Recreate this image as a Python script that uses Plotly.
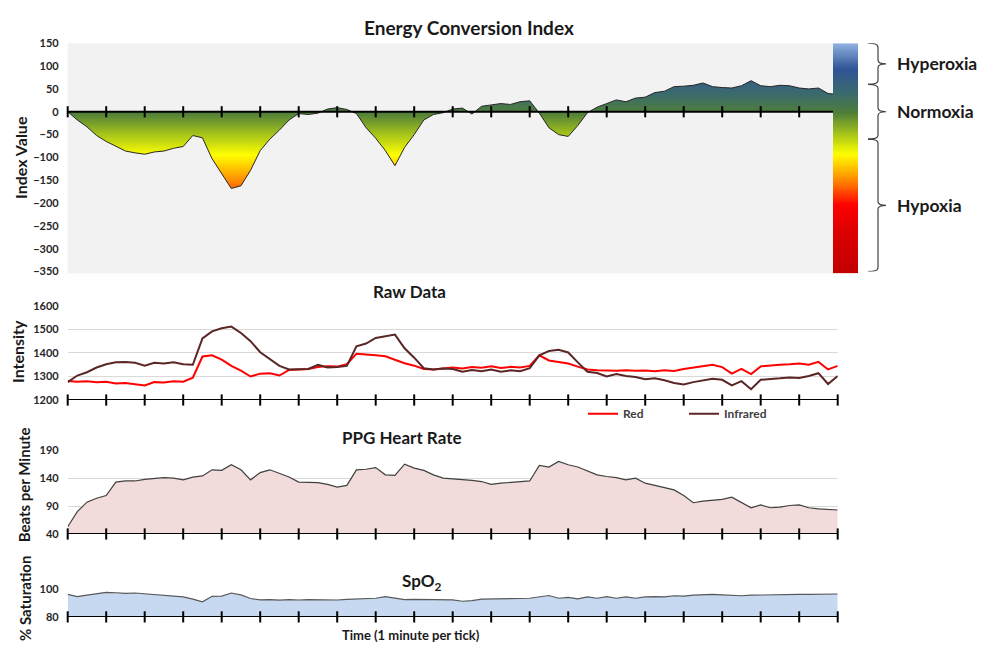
import numpy as np
import plotly.graph_objects as go

# ---------------- data (one sample every 15 s, 20 minutes) ----------------
MINUTES = [i * 0.25 for i in range(81)]
TICK_MINUTES = list(range(21))

ECI = [0, -18, -33, -52, -65, -75, -86, -90, -93, -88,
       -86, -80, -76, -52, -57, -103, -135, -168, -162, -128,
       -85, -60, -40, -18, -4, -6, -3, 6, 9, 5,
       -4, -35, -58, -85, -118, -78, -50, -18, -6, -2,
       6, 8, -5, 12, 15, 18, 16, 22, 24, -3,
       -35, -50, -54, -30, -2, 10, 18, 26, 22, 30,
       32, 42, 45, 55, 56, 58, 63, 55, 53, 52,
       57, 68, 57, 55, 58, 57, 52, 50, 52, 40, 38]

RED = [1281, 1278, 1280, 1275, 1278, 1270, 1272, 1268, 1262, 1276,
       1274, 1280, 1278, 1295, 1385, 1390, 1372, 1345, 1325, 1300,
       1312, 1314, 1304, 1328, 1330, 1332, 1340, 1344, 1342, 1352,
       1397, 1392, 1390, 1386, 1372, 1356, 1346, 1332, 1330, 1335,
       1338, 1334, 1340, 1337, 1343, 1336, 1341, 1338, 1345, 1390,
       1368, 1362, 1355, 1342, 1330, 1326, 1325, 1324, 1327, 1324,
       1325, 1322, 1326, 1323, 1332, 1338, 1342, 1350, 1340, 1312,
       1332, 1310, 1343, 1348, 1350, 1352, 1355, 1350, 1362, 1330, 1345]

INFRARED = [1276, 1304, 1318, 1338, 1352, 1360, 1362, 1358, 1346, 1358,
            1355, 1360, 1352, 1350, 1462, 1492, 1505, 1512, 1485, 1450,
            1403, 1375, 1345, 1330, 1330, 1332, 1350, 1338, 1340, 1345,
            1428, 1440, 1464, 1472, 1478, 1420, 1380, 1335, 1330, 1334,
            1332, 1320, 1328, 1322, 1330, 1320, 1326, 1322, 1335, 1390,
            1408, 1414, 1402, 1360, 1320, 1315, 1300, 1310, 1302, 1298,
            1288, 1292, 1284, 1272, 1266, 1276, 1282, 1290, 1286, 1262,
            1280, 1246, 1286, 1288, 1292, 1296, 1294, 1302, 1314, 1268, 1302]

HEART_RATE = [53, 80, 97, 104, 109, 133, 135, 135, 138, 139,
              141, 140, 137, 142, 144, 155, 154, 164, 155, 137,
              150, 155, 149, 142, 133, 132, 132, 129, 124, 127,
              155, 156, 159, 146, 145, 165, 158, 154, 146, 140,
              139, 137, 136, 134, 129, 131, 132, 134, 135, 163,
              160, 170, 164, 160, 153, 146, 143, 141, 137, 140,
              131, 127, 122, 119, 109, 96, 99, 100, 102, 106,
              97, 87, 92, 87, 88, 91, 92, 87, 85, 84, 83]

SPO2 = [96.4, 94.8, 95.8, 96.6, 97.8, 97.6, 97.2, 97.4, 96.8, 96.0,
        95.5, 95.0, 94.6, 93.0, 91.0, 95.0, 95.2, 97.4, 96.0, 93.4,
        92.4, 92.6, 92.2, 92.6, 92.3, 92.6, 92.4, 92.6, 92.3, 92.8,
        93.0, 93.4, 93.6, 94.8, 93.8, 92.6, 92.8, 92.7, 92.4, 92.1,
        92.4, 91.4, 91.8, 93.0, 93.0, 93.2, 93.0, 93.4, 93.6, 94.4,
        95.6, 93.6, 94.2, 93.2, 94.6, 93.6, 94.8, 93.6, 94.6, 93.6,
        94.6, 94.8, 94.6, 95.4, 95.2, 95.8, 96.0, 96.4, 96.0, 95.6,
        95.4, 95.8, 96.0, 96.0, 96.2, 96.2, 96.4, 96.4, 96.6, 96.6, 96.7]

# oxygenation zones of the index: (label, upper bound, lower bound)
ZONES = [("Hyperoxia", 150, 60), ("Normoxia", 60, -60), ("Hypoxia", -60, -350)]

ECI_RANGE = [-350, 150]
RAW_RANGE = [1200, 1600]
HR_RANGE = [40, 190]
SPO2_RANGE = [80, 100]

# colour scale shared by the index fill and the side colour bar
ECI_COLORSCALE = [
    [0.00, "#c00000"], [0.20, "#e00000"], [0.30, "#ff0000"], [0.40, "#ff8000"],
    [0.46, "#ffc000"], [0.52, "#ffff00"], [0.61, "#a5c31a"], [0.70, "#4f7f3a"],
    [0.78, "#3b6b6b"], [0.89, "#2f5597"], [1.00, "#8fb0e0"],
]

# ---------------- page geometry (pixels) ----------------
W, H = 981, 652
FONT = "Lato, 'Open Sans', sans-serif"
TXT = "#262626"


def px(x):
    return x / W


def py(y):
    return 1 - y / H


X_DOM = [px(67.7), px(837.7)]

fig = go.Figure()

# ---- Energy Conversion Index ----
fig.add_trace(go.Scatter(
    x=MINUTES, y=ECI, mode="lines", fill="tozeroy",
    line=dict(color="#262626", width=1),
    fillgradient=dict(type="vertical", colorscale=ECI_COLORSCALE,
                      start=ECI_RANGE[0], stop=ECI_RANGE[1]),
    xaxis="x", yaxis="y", showlegend=False, hoverinfo="skip"))
fig.add_trace(go.Scatter(
    x=TICK_MINUTES, y=[0] * len(TICK_MINUTES), mode="lines+markers",
    line=dict(color="black", width=2),
    marker=dict(symbol="line-ns", size=8, line=dict(color="black", width=2)),
    xaxis="x", yaxis="y", showlegend=False, cliponaxis=False, hoverinfo="skip"))

# colour bar beside the index
levels = np.linspace(ECI_RANGE[0], ECI_RANGE[1], 251)
fig.add_trace(go.Heatmap(
    x=[0], y=levels, z=[[v] for v in levels], colorscale=ECI_COLORSCALE,
    zmin=ECI_RANGE[0], zmax=ECI_RANGE[1], showscale=False, zsmooth="best",
    xaxis="x5", yaxis="y5", hoverinfo="skip"))

# ---- Raw data ----
fig.add_trace(go.Scatter(
    x=MINUTES, y=RED, mode="lines", name="Red",
    line=dict(color="#ff0000", width=2), xaxis="x2", yaxis="y2"))
fig.add_trace(go.Scatter(
    x=MINUTES, y=INFRARED, mode="lines", name="Infrared",
    line=dict(color="#5b2626", width=2), xaxis="x2", yaxis="y2"))

# ---- PPG heart rate ----
fig.add_trace(go.Scatter(
    x=MINUTES, y=HEART_RATE, mode="lines", fill="tozeroy",
    fillcolor="#f2dcdb", line=dict(color="#404040", width=1.2),
    xaxis="x3", yaxis="y3", showlegend=False, hoverinfo="skip"))

# ---- SpO2 ----
fig.add_trace(go.Scatter(
    x=MINUTES, y=SPO2, mode="lines", fill="tozeroy",
    fillcolor="#c6d9f1", line=dict(color="#595959", width=1.2),
    xaxis="x4", yaxis="y4", showlegend=False, hoverinfo="skip"))

# minute ticks along the bottom axes of the lower panels
for xa, ya, base in (("x2", "y2", RAW_RANGE[0]), ("x3", "y3", HR_RANGE[0]),
                     ("x4", "y4", SPO2_RANGE[0])):
    fig.add_trace(go.Scatter(
        x=TICK_MINUTES, y=[base] * len(TICK_MINUTES), mode="lines+markers",
        line=dict(color="black", width=2),
        marker=dict(symbol="line-ns", size=8, line=dict(color="black", width=2)),
        xaxis=xa, yaxis=ya, showlegend=False, cliponaxis=False, hoverinfo="skip"))

tickfont = dict(family=FONT, size=11, color=TXT, weight="bold")


def xaxis_cfg():
    return dict(domain=X_DOM, range=[0, 20], showgrid=False, zeroline=False,
                showticklabels=False, ticks="", showline=False, fixedrange=True)


def yaxis_cfg(rng, dtick, grid, domain):
    return dict(domain=domain, range=rng, dtick=dtick, tick0=rng[0],
                showgrid=grid, gridcolor="#d9d9d9", gridwidth=1,
                zeroline=False, showline=False, ticks="",
                tickfont=tickfont, ticklabelstandoff=8, fixedrange=True)


layout = dict(
    width=W, height=H, margin=dict(l=0, r=0, t=0, b=0),
    paper_bgcolor="white", plot_bgcolor="white",
    font=dict(family=FONT, color=TXT),
    xaxis=xaxis_cfg(),
    yaxis=yaxis_cfg(ECI_RANGE, 50, False, [py(270), py(37)]),
    xaxis2=dict(xaxis_cfg(), anchor="y2"),
    yaxis2=dict(yaxis_cfg(RAW_RANGE, 100, True, [py(401), py(305)]), anchor="x2"),
    xaxis3=dict(xaxis_cfg(), anchor="y3"),
    yaxis3=dict(yaxis_cfg(HR_RANGE, 50, True, [py(537.7), py(452.3)]), anchor="x3"),
    xaxis4=dict(xaxis_cfg(), anchor="y4"),
    yaxis4=dict(yaxis_cfg(SPO2_RANGE, 20, True, [py(622.3), py(594.3)]), anchor="x4"),
    xaxis5=dict(domain=[px(833), px(858)], visible=False, anchor="y5", fixedrange=True),
    yaxis5=dict(domain=[py(272), py(37)], range=ECI_RANGE, visible=False,
                anchor="x5", fixedrange=True),
    legend=dict(orientation="h", x=px(583), y=py(415), xanchor="left", yanchor="middle",
                entrywidth=56, entrywidthmode="pixels",
                font=dict(family=FONT, size=12, color="#404040", weight="bold"),
                bgcolor="rgba(0,0,0,0)", tracegroupgap=0),
)
fig.update_layout(**layout)

# grey backdrop of the index panel
fig.add_shape(type="rect", xref="x domain", yref="paper", x0=0, x1=1,
              y0=py(272), y1=py(37), fillcolor="#f2f2f2", line_width=0, layer="below")

# braces and labels for the oxygenation zones
units_per_px = (ECI_RANGE[1] - ECI_RANGE[0]) / (270 - 37)
r = 4 * units_per_px
xa, xb, xc = px(868), px(878), px(886)
for label, top, bot in ZONES:
    mid = (top + bot) / 2
    path = (f"M {xa},{top} Q {xb},{top} {xb},{top - r} L {xb},{mid + r} "
            f"Q {xb},{mid} {xc},{mid} Q {xb},{mid} {xb},{mid - r} "
            f"L {xb},{bot + r} Q {xb},{bot} {xa},{bot}")
    fig.add_shape(type="path", path=path, xref="paper", yref="y",
                  line=dict(color="#404040", width=1.2))
    fig.add_annotation(x=px(895), y=mid, xref="paper", yref="y", text=f"<b>{label}</b>",
                       showarrow=False, xanchor="left", yanchor="middle",
                       font=dict(family=FONT, size=17.5, color="#1a1a1a"))

# panel titles
for text, x, y, size in (("Energy Conversion Index", 469, 21, 19),
                         ("Raw Data", 409, 290, 17),
                         ("PPG Heart Rate", 402, 439, 17),
                         ("SpO<sub>2</sub>", 422, 587, 17),
                         ("Time (1 minute per tick)", 411, 641, 13)):
    fig.add_annotation(x=px(x), y=py(y), xref="paper", yref="paper", text=f"<b>{text}</b>",
                       showarrow=False, xanchor="center", yanchor="middle",
                       font=dict(family=FONT, size=size, color="#1a1a1a"))

# axis titles
for text, x, y, size in (("Index Value", 21, 154, 16), ("Intensity", 18, 352, 16),
                         ("Beats per Minute", 24, 488, 15), ("% Saturation", 25, 604, 15)):
    fig.add_annotation(x=px(x), y=py(y), xref="paper", yref="paper", text=f"<b>{text}</b>",
                       showarrow=False, textangle=-90, xanchor="center", yanchor="middle",
                       font=dict(family=FONT, size=size, color="#1a1a1a"))

fig.write_html("out.html")
